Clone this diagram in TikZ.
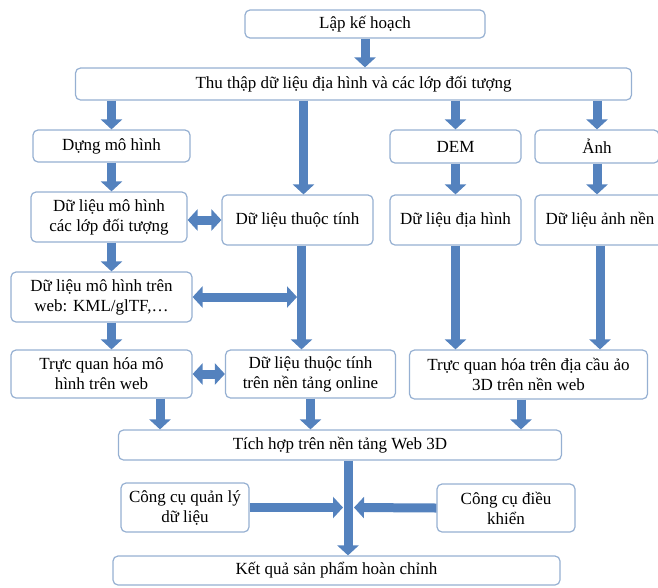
\documentclass[tikz,border=0pt]{standalone}
\usepackage{fontspec}
\setmainfont{Liberation Serif}
\usetikzlibrary{arrows.meta}
\definecolor{boxline}{RGB}{150,176,210}
\definecolor{arrowblue}{RGB}{84,130,190}

\begin{document}
\begin{tikzpicture} [x=1pt, y=-1pt, align=center,
  font=\fontsize{17}{20}\selectfont,
  box/.style={draw=boxline, line width=1.2pt, rounded corners=5pt, fill=white, inner sep=0pt},
  blk/.style={draw=arrowblue, line width=9pt, -{Triangle[width=21pt, length=10pt]}},
  dblk/.style={draw=arrowblue, line width=9pt, {Triangle[width=21pt, length=10pt]}-{Triangle[width=21pt, length=10pt]}}]
\useasboundingbox (0,0) rectangle (658,587);

\path (365,24) node[box, minimum width=240pt, minimum height=28pt] (lap) {Lập kế hoạch}
      (353.5,84) node[box, minimum width=556pt, minimum height=32pt] (thu) {Thu thập dữ liệu địa hình và các lớp đối tượng}
      (111.5,146) node[box, minimum width=157pt, minimum height=32pt] (dung) {Dựng mô hình}
      (455.5,146.5) node[box, minimum width=131pt, minimum height=33pt] (dem) {DEM}
      (597,146.5) node[box, minimum width=124pt, minimum height=33pt] (anh) {Ảnh}
      (109,217) node[box, minimum width=156pt, minimum height=50pt] (dlmh) {Dữ liệu mô hình\\các lớp đối tượng}
      (297.5,220) node[box, minimum width=151pt, minimum height=50pt] (tt) {Dữ liệu thuộc tính}
      (455.5,220) node[box, minimum width=131pt, minimum height=50pt] (dh) {Dữ liệu địa hình}
      (600,220) node[box, minimum width=130pt, minimum height=50pt] (anhnen) {Dữ liệu ảnh nền}
      (101.5,297) node[box, minimum width=181pt, minimum height=50pt] (web) {Dữ liệu mô hình trên\\web: KML/glTF,…}
      (101.5,374) node[box, minimum width=181pt, minimum height=48pt] (tqmh) {Trực quan hóa mô\\hình trên web}
      (310.5,374) node[box, minimum width=170pt, minimum height=48pt] (ttol) {Dữ liệu thuộc tính\\trên nền tảng online}
      (528.5,374.5) node[box, minimum width=238pt, minimum height=49pt] (tqdc) {Trực quan hóa trên địa cầu ảo\\3D trên nền web}
      (340,445) node[box, minimum width=443pt, minimum height=30pt] (tich) {Tích hợp trên nền tảng Web 3D}
      (185,507.5) node[box, minimum width=128pt, minimum height=49pt] (ccql) {Công cụ quản lý\\dữ liệu}
      (506,508) node[box, minimum width=138pt, minimum height=48pt] (ccdk) {Công cụ điều\\khiển}
      (336.5,570.5) node[box, minimum width=447pt, minimum height=29pt] (kq) {Kết quả sản phẩm hoàn chỉnh};

\coordinate (webend) at (297,297);
\coordinate (qlend) at (343,507.5);
\coordinate (dkend) at (354,507.5);

\draw[blk] (lap.south) to (lap.south |- thu.north);
\draw[blk] (dung.north |- thu.south) to (dung.north);
\draw[blk] ([xshift=6pt]tt.north |- thu.south) to ([xshift=6pt]tt.north);
\draw[blk] (dem.north |- thu.south) to (dem.north);
\draw[blk] (anh.north |- thu.south) to (anh.north);
\draw[blk] (dung.south) to (dung.south |- dlmh.north);
\draw[blk] (dem.south) to (dem.south |- dh.north);
\draw[blk] (anh.south) to (anh.south |- anhnen.north);
\draw[dblk] (tt.west -| dlmh.east) to (tt.west);
\draw[blk] (dung.south |- dlmh.south) to (dung.south |- web.north);
\draw[dblk] (web.east) to (webend);
\draw[blk] ([xshift=4pt]tt.south) to ([xshift=4pt]tt.south |- ttol.north);
\draw[blk] (dh.south) to (dh.south |- tqdc.north);
\draw[blk] (anhnen.south) to (anhnen.south |- tqdc.north);
\draw[blk] (dung.south |- web.south) to (dung.south |- tqmh.north);
\draw[dblk] (tqmh.east) to (ttol.west);
\draw[blk] ([xshift=58.5pt]tqmh.south) to ([xshift=58.5pt]tqmh.south |- tich.north);
\draw[blk] (ttol.south) to (ttol.south |- tich.north);
\draw[blk] ([xshift=-7.5pt]tqdc.south) to ([xshift=-7.5pt]tqdc.south |- tich.north);
\draw[blk] ([xshift=8pt]tich.south) to ([xshift=8pt]tich.south |- kq.north);
\draw[blk] (ccql.east) to (qlend);
\draw[blk] (ccdk.west) to (dkend);

\end{tikzpicture}
\end{document}
